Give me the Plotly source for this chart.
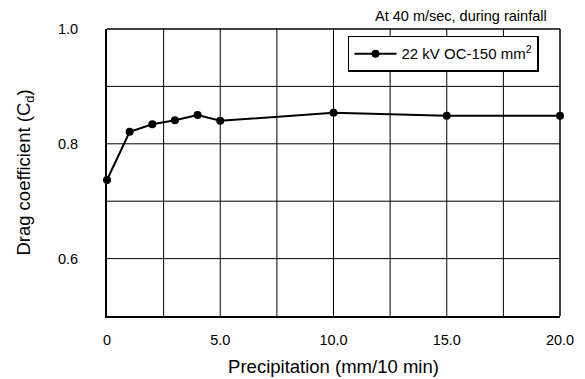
import plotly.graph_objects as go

precip = [0, 1, 2, 3, 4, 5, 10, 15, 20]
cd = [0.737, 0.821, 0.834, 0.841, 0.850, 0.840, 0.854, 0.849, 0.849]
series_name = "22 kV OC-150 mm<sup>2</sup>"
x_tickvals = [0, 5, 10, 15, 20]
x_ticktext = ["0", "5.0", "10.0", "15.0", "20.0"]
y_tickvals = [0.6, 0.8, 1.0]
y_ticktext = ["0.6", "0.8", "1.0"]
x_grid = [2.5, 5, 7.5, 10, 12.5, 15, 17.5]
y_grid = [0.6, 0.7, 0.8, 0.9]

FONT = "Liberation Sans, Arial, sans-serif"

fig = go.Figure()
fig.add_trace(go.Scatter(
    x=precip, y=cd, mode="lines+markers", name=series_name,
    line=dict(color="black", width=2),
    marker=dict(color="black", size=8),
    cliponaxis=False,
))

for gx in x_grid:
    fig.add_shape(type="line", xref="x", yref="paper", x0=gx, x1=gx, y0=0, y1=1,
                  line=dict(color="black", width=1), layer="below")
for gy in y_grid:
    fig.add_shape(type="line", xref="paper", yref="y", x0=0, x1=1, y0=gy, y1=gy,
                  line=dict(color="black", width=1), layer="below")
fig.add_shape(type="line", xref="paper", yref="paper", x0=0, x1=1, y0=1, y1=1,
              line=dict(color="black", width=1.5), layer="below")
fig.add_shape(type="line", xref="paper", yref="paper", x0=1, x1=1, y0=0, y1=1,
              line=dict(color="black", width=1.5), layer="below")

fig.update_layout(
    width=577, height=371,
    margin=dict(l=99, r=25, t=21, b=63, autoexpand=False),
    paper_bgcolor="white", plot_bgcolor="white",
    font=dict(family=FONT, color="black", size=14),
    showlegend=True,
    legend=dict(x=0.532, y=0.976, xanchor="left", yanchor="top",
                bordercolor="black", borderwidth=1.5, bgcolor="white",
                itemwidth=42,
                font=dict(size=15, family=FONT)),
    xaxis=dict(range=[0, 20], tickvals=x_tickvals, ticktext=x_ticktext,
               showgrid=False, zeroline=False, showline=True, linecolor="black",
               linewidth=2, ticks="outside", ticklen=10, tickcolor="rgba(0,0,0,0)",
               tickfont=dict(size=14.5, family=FONT), automargin=False,
               title=dict(text="Precipitation (mm/10 min)", font=dict(size=18.5, family=FONT), standoff=13)),
    yaxis=dict(range=[0.5, 1.0], tickvals=y_tickvals, ticktext=y_ticktext,
               showgrid=False, zeroline=False, showline=True, linecolor="black",
               linewidth=2, ticks="outside", ticklen=24, tickcolor="rgba(0,0,0,0)",
               tickfont=dict(size=14.5, family=FONT), automargin=False,
               title=dict(text="Drag coefficient (C<sub>d</sub>)", font=dict(size=18.5, family=FONT), standoff=22)),
    annotations=[dict(text="At 40 m/sec, during rainfall", xref="paper", yref="paper",
                      x=0.9757, y=1.0, xanchor="right", yanchor="bottom", yshift=3,
                      showarrow=False, font=dict(size=14.5, family=FONT))],
)

fig.write_html("out.html")
